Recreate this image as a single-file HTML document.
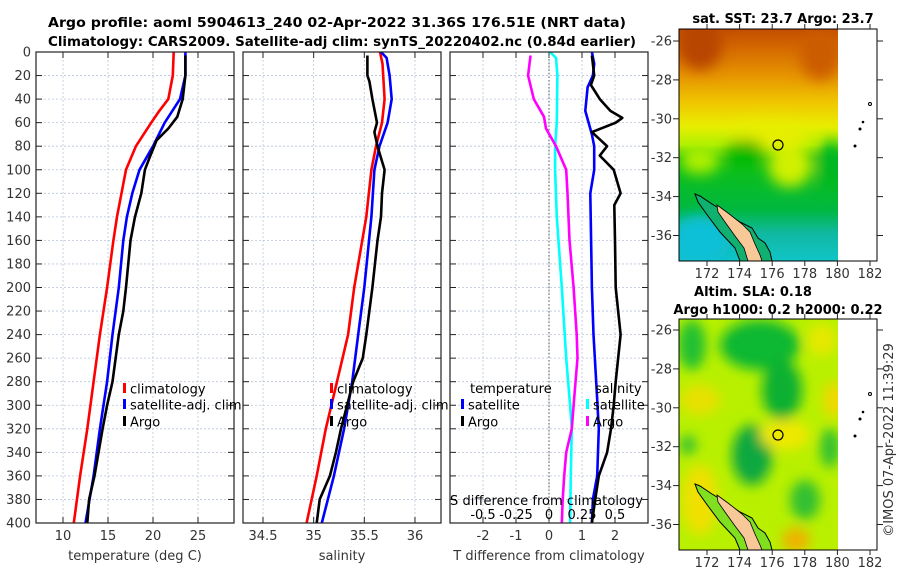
<!DOCTYPE html>
<html><head><meta charset="utf-8">
<style>
html,body{margin:0;padding:0;background:#fff;}
svg{display:block;font-family:"DejaVu Sans","Liberation Sans",sans-serif;}
</style></head>
<body>
<svg id="fig" width="900" height="580" viewBox="0 0 900 580" xmlns="http://www.w3.org/2000/svg">
<defs>
<filter id="blur1" x="-20%" y="-20%" width="140%" height="140%"><feGaussianBlur stdDeviation="7"/></filter>
<filter id="blur2" x="-20%" y="-20%" width="140%" height="140%"><feGaussianBlur stdDeviation="6"/></filter>
<clipPath id="clipM1"><rect x="679" y="29" width="159" height="232"/></clipPath>
<clipPath id="clipM2"><rect x="679" y="319" width="159" height="231"/></clipPath>
<linearGradient id="sstGrad" x1="0" y1="0" x2="0" y2="1">
<stop offset="0" stop-color="#c24e00"/><stop offset="0.08" stop-color="#d46800"/>
<stop offset="0.2" stop-color="#e69400"/><stop offset="0.32" stop-color="#f0c800"/>
<stop offset="0.42" stop-color="#e8ee00"/><stop offset="0.5" stop-color="#b0f000"/>
<stop offset="0.56" stop-color="#10c010"/><stop offset="0.78" stop-color="#00b840"/>
<stop offset="0.88" stop-color="#10b8a0"/><stop offset="1" stop-color="#10c4c8"/>
</linearGradient>
</defs>
<g font-weight="bold" font-size="13" fill="#000">
<text x="48" y="27" textLength="578" lengthAdjust="spacingAndGlyphs">Argo profile: aoml 5904613_240 02-Apr-2022 31.36S 176.51E (NRT data)</text>
<text x="48" y="46" textLength="588" lengthAdjust="spacingAndGlyphs">Climatology: CARS2009. Satellite-adj clim: synTS_20220402.nc (0.84d earlier)</text>
</g>
<g id="panels"></g>

<!-- Map 1: SST -->
<g>
<text x="783" y="23" text-anchor="middle" font-weight="bold" font-size="13">sat. SST: 23.7 Argo: 23.7</text>
<g clip-path="url(#clipM1)">
<rect x="679" y="29" width="159" height="232" fill="url(#sstGrad)"/>
<g filter="url(#blur1)">
<ellipse cx="700" cy="45" rx="22" ry="25" fill="#b84400"/>
<ellipse cx="820" cy="55" rx="20" ry="25" fill="#cc5c00"/>
<ellipse cx="790" cy="165" rx="22" ry="22" fill="#d0f000"/>
<ellipse cx="770" cy="135" rx="40" ry="12" fill="#e8ee00"/>
<ellipse cx="700" cy="160" rx="20" ry="14" fill="#b0f000"/>
<ellipse cx="745" cy="152" rx="20" ry="12" fill="#00b800"/>
<ellipse cx="832" cy="165" rx="14" ry="25" fill="#00b820"/>
<ellipse cx="700" cy="240" rx="30" ry="25" fill="#10c0d8"/>
</g>
</g>
<g>
<path d="M695,194 L700,196 L712,204 L725,212 L740,222 L752,228 L758,238 L765,243 L770,252 L772,261 L740,261 L735,248 L720,232 L708,216 L698,202 Z" fill="#10b070" stroke="#000" stroke-width="1"/>
<path d="M717,205 L728,213 L742,224 L750,232 L755,244 L760,255 L762,261 L748,261 L744,248 L735,236 L725,222 L718,212 Z" fill="#f8c898" stroke="#000" stroke-width="0.8"/>
</g>
<circle cx="778" cy="145" r="5" fill="none" stroke="#000" stroke-width="1.2"/>
<g fill="#000"><circle cx="855" cy="146" r="1.5"/><circle cx="860" cy="129" r="1.5"/><circle cx="863" cy="122" r="1.3"/><circle cx="870" cy="104" r="1.5" fill="none" stroke="#000"/></g>
<rect x="679" y="29" width="198" height="232" fill="none" stroke="#000" stroke-width="1"/>
<g id="m1ticks"></g>
</g>

<!-- Map 2: SLA -->
<g>
<text x="753" y="296" text-anchor="middle" font-weight="bold" font-size="13">Altim. SLA: 0.18</text>
<text x="778" y="314" text-anchor="middle" font-weight="bold" font-size="13">Argo h1000: 0.2 h2000: 0.22</text>
<g clip-path="url(#clipM2)">
<rect x="679" y="319" width="159" height="231" fill="#b8f000"/>
<g filter="url(#blur2)">
<ellipse cx="760" cy="345" rx="40" ry="25" fill="#10b830"/>
<ellipse cx="782" cy="390" rx="20" ry="30" fill="#10b030"/>
<ellipse cx="692" cy="345" rx="14" ry="25" fill="#20c030"/>
<ellipse cx="822" cy="340" rx="14" ry="16" fill="#e8e800"/>
<ellipse cx="752" cy="455" rx="20" ry="30" fill="#10a840"/>
<ellipse cx="805" cy="500" rx="15" ry="20" fill="#30c030"/>
<ellipse cx="830" cy="448" rx="10" ry="20" fill="#30c030"/>
<ellipse cx="688" cy="445" rx="8" ry="10" fill="#30c030"/>
<ellipse cx="700" cy="400" rx="20" ry="15" fill="#e8e000"/>
<ellipse cx="835" cy="400" rx="12" ry="18" fill="#f0d800"/>
<ellipse cx="700" cy="500" rx="18" ry="35" fill="#f0e000"/>
<ellipse cx="796" cy="540" rx="14" ry="12" fill="#f0b000"/>
<ellipse cx="785" cy="435" rx="25" ry="15" fill="#f0e800"/>
</g>
</g>
<g>
<path d="M695,484 L700,486 L712,494 L725,502 L740,512 L752,518 L758,528 L765,533 L770,542 L772,550 L740,550 L735,538 L720,522 L708,506 L698,492 Z" fill="#80e020" stroke="#000" stroke-width="1"/>
<path d="M717,495 L728,503 L742,514 L750,522 L755,534 L760,545 L762,550 L748,550 L744,538 L735,526 L725,512 L718,502 Z" fill="#f8c898" stroke="#000" stroke-width="0.8"/>
</g>
<circle cx="778" cy="435" r="5" fill="none" stroke="#000" stroke-width="1.2"/>
<g fill="#000"><circle cx="855" cy="436" r="1.5"/><circle cx="860" cy="419" r="1.5"/><circle cx="863" cy="412" r="1.3"/><circle cx="870" cy="394" r="1.5" fill="none" stroke="#000"/></g>
<rect x="679" y="319" width="198" height="231" fill="none" stroke="#000" stroke-width="1"/>
<g id="m2ticks"></g>
</g>
<text transform="translate(893,440) rotate(-90)" text-anchor="middle" font-size="13" fill="#333">©IMOS 07-Apr-2022 11:39:29</text>
</svg>
<script>
// ---- data ----
const tempDepths = [0,20,40,50,60,80,100,120,140,160,200,240,280,320,360,400];
const tempClim   = [22.3,22.2,21.7,20.7,19.8,18.1,17.0,16.5,16.0,15.6,14.9,14.1,13.4,12.7,11.9,11.2];
const tempSatDepths = [0,20,40,60,80,100,120,140,160,200,240,280,320,360,400];
const tempSat    = [23.6,23.6,23.0,21.3,20.0,18.5,17.7,17.1,16.7,16.2,15.5,14.9,14.1,13.4,12.5];
const argoTempDepths = [3,20,40,55,65,75,90,100,120,140,160,200,220,240,280,300,320,360,380,400];
const argoTemp   = [23.6,23.6,23.3,22.7,21.7,20.4,19.6,19.1,18.7,18.0,17.5,17.0,16.7,16.2,15.5,14.9,14.4,13.5,12.9,12.7];

const salClimDepths = [0,10,40,60,80,100,140,200,240,280,320,360,400];
const salClim    = [35.655,35.68,35.70,35.675,35.615,35.57,35.52,35.40,35.34,35.23,35.12,35.03,34.93];
const salSatDepths = [0,5,20,40,60,80,100,140,200,240,280,320,360,400];
const salSat     = [35.665,35.72,35.75,35.77,35.73,35.65,35.60,35.57,35.50,35.44,35.38,35.30,35.20,35.08];
const argoSalDepths = [3,20,25,40,60,68,80,90,100,120,140,160,200,240,260,280,320,340,360,380,400];
const argoSal    = [35.53,35.53,35.55,35.58,35.625,35.60,35.63,35.665,35.70,35.675,35.665,35.63,35.58,35.52,35.485,35.39,35.27,35.22,35.16,35.06,35.03];

const dTSatDepths = [0,10,20,30,50,70,80,100,120,200,240,280,320,360,380,400];
const dTSat      = [1.30,1.37,1.33,1.17,1.10,1.30,1.37,1.37,1.25,1.30,1.35,1.43,1.51,1.46,1.33,1.30];
const dTArgoDepths = [3,20,28,40,50,56,60,68,80,88,100,120,130,160,200,240,280,300,320,340,360,380,400];
const dTArgo     = [1.30,1.37,1.27,1.54,1.86,2.22,2.02,1.30,1.76,1.54,1.96,2.17,1.98,2.00,2.02,2.17,2.02,1.96,1.88,1.76,1.51,1.40,1.30];
const dSSatDepths = [0,5,20,60,80,100,140,200,260,300,320,360,400];
const dSSat      = [0.008,0.053,0.064,0.059,0.046,0.046,0.059,0.097,0.13,0.16,0.173,0.165,0.16];
const dSArgoDepths = [3,20,40,55,65,80,100,120,160,200,240,260,300,320,340,360,380,400];
const dSArgo     = [-0.14,-0.158,-0.115,-0.038,-0.023,0.053,0.13,0.14,0.155,0.186,0.21,0.216,0.186,0.173,0.13,0.115,0.104,0.097];

const depthTicks = [0,20,40,60,80,100,120,140,160,180,200,220,240,260,280,300,320,340,360,380,400];
const tempTicks = [10,15,20,25];
const salTicks = [34.5,35,35.5,36];
const salTickLabels = ["34.5","35","35.5","36"];
const dTTicks = [-2,-1,0,1,2];
const dSTicks = [-0.5,-0.25,0,0.25,0.5];
const dSTickLabels = ["-0.5","-0.25","0","0.25","0.5"];
const latTicks = [-26,-28,-30,-32,-34,-36];
const lonTicks = [172,174,176,178,180,182];

// ---- geometry ----
const NS = "http://www.w3.org/2000/svg";
const TOP = 52, BOT = 523;
const yD = d => TOP + (BOT - TOP) * d / 400;
function mk(tag, attrs, parent){ const e=document.createElementNS(NS,tag); for(const k in attrs) e.setAttribute(k,attrs[k]); parent.appendChild(e); return e; }
const root = document.getElementById('panels');

const panels = [
 {name:'temperature-panel', x0:36, x1:234, min:7, max:29, ticks:tempTicks, labels:tempTicks.map(String), xlabel:'temperature (deg C)'},
 {name:'salinity-panel', x0:243, x1:441, min:34.3025, max:36.257, ticks:salTicks, labels:salTickLabels, xlabel:'salinity'},
 {name:'difference-panel', x0:450, x1:648, min:-3, max:3, ticks:dTTicks, labels:dTTicks.map(String), xlabel:'T difference from climatology'}
];
panels.forEach((p,i)=>{
  p.sx = v => p.x0 + (p.x1-p.x0)*(v-p.min)/(p.max-p.min);
  const g = mk('g',{},root);
  
  
  depthTicks.forEach(d=>{ mk('line',{x1:p.x0,x2:p.x1,y1:yD(d),y2:yD(d),stroke:'#b8c4dc','stroke-width':0.8,'stroke-dasharray':'2,2'},g); });
  p.ticks.forEach(t=>{ const x=p.sx(t); mk('line',{x1:x,x2:x,y1:TOP,y2:BOT,stroke:'#b8c4dc','stroke-width':0.8,'stroke-dasharray':'2,2'},g); });
  depthTicks.forEach(d=>{ const y=yD(d); mk('line',{x1:p.x0,x2:p.x0+6,y1:y,y2:y,stroke:'#222'},g); mk('line',{x1:p.x1-6,x2:p.x1,y1:y,y2:y,stroke:'#222'},g); });
  p.ticks.forEach(t=>{ const x=p.sx(t); mk('line',{x1:x,x2:x,y1:BOT,y2:BOT-6,stroke:'#222'},g); mk('line',{x1:x,x2:x,y1:TOP,y2:TOP+6,stroke:'#222'},g); });
  const xl = mk('g',{'font-size':13,fill:'#333','text-anchor':'middle'},g);
  
  
  p.ticks.forEach((t,k)=>{ const tx=mk('text',{x:p.sx(t),y:540},xl); tx.textContent=p.labels[k]; });
  const tl = mk('text',{x:(p.x0+p.x1)/2,y:560,'font-size':13,fill:'#333','text-anchor':'middle'},g);
  tl.textContent = p.xlabel;
  
  
  if(i===0){
    const yl = mk('g',{'font-size':13,fill:'#333','text-anchor':'end'},g);
    
    
    depthTicks.forEach(d=>{ const tx=mk('text',{x:31,y:yD(d)+4.5},yl); tx.textContent=String(d); });
  }
  p.g = g;
});

function series(p, depths, vals, sx, color, name){
  const pts = depths.map((d,k)=> sx(vals[k]).toFixed(1)+','+yD(d).toFixed(1)).join(' ');
  const pl = mk('polyline',{points:pts,fill:'none',stroke:color,'stroke-width':2.6,'stroke-linejoin':'round'},p.g);
  
  
}
const P1=panels[0], P2=panels[1], P3=panels[2];
mk('line',{x1:P3.sx(0),x2:P3.sx(0),y1:TOP,y2:BOT,stroke:'#555','stroke-width':1,'stroke-dasharray':'1.5,2'},P3.g);
const sxS = v => P3.sx(v*4);

series(P1, tempDepths, tempClim, P1.sx, '#ff0000', 'temp-climatology-line');
series(P1, tempSatDepths, tempSat, P1.sx, '#0000ff', 'temp-satellite-line');
series(P1, argoTempDepths, argoTemp, P1.sx, '#000000', 'temp-argo-line');
series(P2, salClimDepths, salClim, P2.sx, '#ff0000', 'sal-climatology-line');
series(P2, salSatDepths, salSat, P2.sx, '#0000ff', 'sal-satellite-line');
series(P2, argoSalDepths, argoSal, P2.sx, '#000000', 'sal-argo-line');
series(P3, dSSatDepths, dSSat, sxS, '#00ffff', 'sdiff-satellite-line');
series(P3, dSArgoDepths, dSArgo, sxS, '#ff00ff', 'sdiff-argo-line');
series(P3, dTSatDepths, dTSat, P3.sx, '#0000ff', 'tdiff-satellite-line');
series(P3, dTArgoDepths, dTArgo, P3.sx, '#000000', 'tdiff-argo-line');

panels.forEach(p=>{ mk('rect',{x:p.x0,y:TOP,width:p.x1-p.x0,height:BOT-TOP,fill:'none',stroke:'#222','stroke-width':1.2},p.g); });

const sg = mk('g',{'font-size':13,fill:'#000'},P3.g);


const st = mk('text',{x:450,y:505,'text-anchor':'start'},sg); st.textContent='S difference from climatology';
st.setAttribute('textLength','193');
dSTicks.forEach((t,k)=>{ const tx=mk('text',{x:sxS(t),y:519,'text-anchor':'middle'},sg); tx.textContent=dSTickLabels[k]; });

function legend(x, y, color, label, name){
  const g = mk('g',{},root);
  
  
  mk('rect',{x:x,y:y-6,width:3,height:10,fill:color},g);
  const t = mk('text',{x:x+7,y:y+4.5,'font-size':13,fill:'#000'},g); t.textContent=label;
}
[[P1,123],[P2,330]].forEach(([p,x],k)=>{
  legend(x,389,'#ff0000','climatology','legend-climatology-'+(k+1));
  legend(x,405,'#0000ff','satellite-adj. clim','legend-satellite-'+(k+1));
  legend(x,422,'#000000','Argo','legend-argo-'+(k+1));
});
const lt = mk('text',{x:470,y:393,'font-size':13},root); lt.textContent='temperature';
 
legend(461,405,'#0000ff','satellite','legend-tdiff-satellite');
legend(461,422,'#000000','Argo','legend-tdiff-argo');
const ls = mk('text',{x:595,y:393,'font-size':13},root); ls.textContent='salinity';
 
legend(586,405,'#00ffff','satellite','legend-sdiff-satellite');
legend(586,422,'#ff00ff','Argo','legend-sdiff-argo');

function mapTicks(id, top, bot, latY0){
  const g = document.getElementById(id);
  g.setAttribute('font-size','13'); g.setAttribute('fill','#333');
  latTicks.forEach(l=>{ const y = latY0 + (-26 - l)*19.45;
    mk('line',{x1:679,x2:673,y1:y,y2:y,stroke:'#222'},g); mk('line',{x1:877,x2:883,y1:y,y2:y,stroke:'#222'},g);
    const t=mk('text',{x:672,y:y+4.5,'text-anchor':'end'},g); t.textContent=String(l); });
  lonTicks.forEach(l=>{ const x = 707 + (l-172)*16.3;
    mk('line',{x1:x,x2:x,y1:bot,y2:bot+5,stroke:'#222'},g); mk('line',{x1:x,x2:x,y1:top,y2:top-5,stroke:'#222'},g);
    const t=mk('text',{x:x,y:bot+17,'text-anchor':'middle'},g); t.textContent=String(l); });
}
mapTicks('m1ticks',29,261,41);
mapTicks('m2ticks',319,550,330);
</script>
</body></html>
